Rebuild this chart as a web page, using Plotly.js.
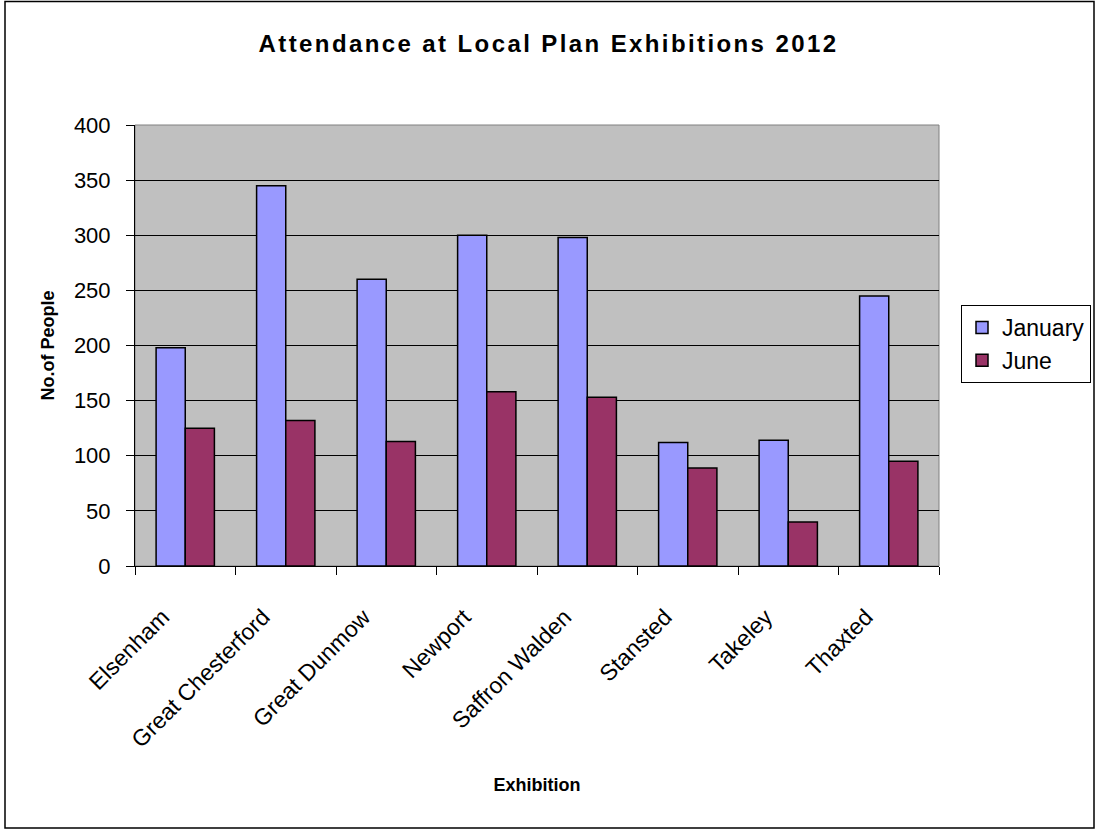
<!DOCTYPE html>
<html>
<head>
<meta charset="utf-8">
<script src="https://cdn.plot.ly/plotly-3.0.1.min.js"></script>
<style>
html,body{margin:0;padding:0;background:#fff;}
#chart{width:1097px;height:833px;}
#chart .gtitle{letter-spacing:2.4px;}
</style>
</head>
<body>
<div id="chart"></div>
<script>
const categories = ["Elsenham", "Great Chesterford", "Great Dunmow", "Newport", "Saffron Walden", "Stansted", "Takeley", "Thaxted"];
const january = [198, 345, 260, 300, 298, 112, 114, 245];
const june = [125, 132, 113, 158, 153, 89, 40, 95];
const yTicks = [0, 50, 100, 150, 200, 250, 300, 350, 400];

const W = 1097, H = 833;
const mL = 135, mR = 158, mT = 125, mB = 267;
const pw = W - mL - mR, ph = H - mT - mB;
const px = v => (v - mL) / pw;
const py = v => (H - mB - v) / ph;

const font = "Liberation Sans, Arial, sans-serif";
const traces = [
  {type: "bar", name: "January", x: categories, y: january,
   marker: {color: "#9999ff", line: {color: "#000", width: 1.5}}},
  {type: "bar", name: "June", x: categories, y: june,
   marker: {color: "#993366", line: {color: "#000", width: 1.5}}}
];

const layout = {
  width: W, height: H,
  margin: {l: mL, r: mR, t: mT, b: mB, pad: 0, autoexpand: false},
  paper_bgcolor: "#fff", plot_bgcolor: "#c0c0c0",
  font: {family: font, color: "#000", size: 18},
  title: {text: "<b>Attendance at Local Plan Exhibitions 2012</b>", font: {size: 24, family: font},
          x: 0.5, xanchor: "center", y: 1 - 44 / H, yanchor: "middle"},
  barmode: "group", bargap: 0.42, bargroupgap: 0,
  showlegend: true,
  legend: {x: px(961), y: py(305), xanchor: "left", yanchor: "top", xref: "paper", yref: "paper",
           bgcolor: "#fff", bordercolor: "#000", borderwidth: 1, font: {size: 23, family: font},
           itemwidth: 30, tracegroupgap: 2},
  xaxis: {type: "category", showgrid: false, showline: true, linecolor: "#000", linewidth: 1,
          ticks: "outside", tickson: "boundaries", ticklen: 8, tickcolor: "#000",
          ticklabelstandoff: 5, ticksuffix: "\u00a0\u00a0\u00a0\u00a0\u00a0",
          tickangle: -45, tickfont: {size: 23, family: font},
          title: {text: "<b>Exhibition</b>", font: {size: 18, family: font}, standoff: 26}},
  yaxis: {range: [0, 400], tickvals: yTicks, showgrid: true, gridcolor: "#000", gridwidth: 1,
          showline: true, linecolor: "#000", linewidth: 1, ticks: "outside", ticklen: 8, tickcolor: "#000",
          ticklabelstandoff: 11,
          zeroline: false, tickfont: {size: 22, family: font},
          title: {text: "<b>No.of People</b>", font: {size: 18, family: font}, standoff: 14}},
  shapes: [
    {type: "rect", xref: "paper", yref: "paper", x0: 0, x1: 1, y0: 0, y1: 1,
     line: {color: "#808080", width: 1}, fillcolor: "rgba(0,0,0,0)", layer: "below"},
    {type: "rect", xref: "paper", yref: "paper", x0: px(5), x1: px(1094), y0: py(828), y1: py(1.5),
     line: {color: "#000", width: 1.5}, fillcolor: "rgba(0,0,0,0)"}
  ]
};

Plotly.newPlot("chart", traces, layout, {displayModeBar: false, staticPlot: true});
</script>
</body>
</html>
